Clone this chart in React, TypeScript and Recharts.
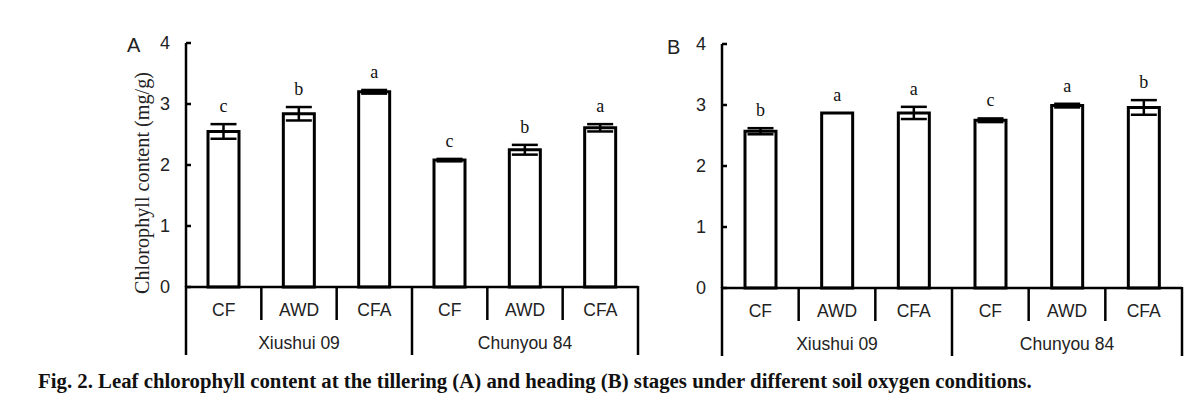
import React from "react";
import { BarChart, Bar, XAxis, YAxis, ErrorBar, LabelList } from "recharts";

const treatments = ["CF", "AWD", "CFA", "CF", "AWD", "CFA"];
const varieties = ["Xiushui 09", "Chunyou 84"];
const tilleringMean = [2.55, 2.84, 3.2, 2.08, 2.25, 2.61];
const tilleringErr = [0.12, 0.11, 0.03, 0.02, 0.08, 0.06];
const tilleringLetter = ["c", "b", "a", "c", "b", "a"];
const headingMean = [2.57, 2.87, 2.87, 2.75, 2.99, 2.96];
const headingErr = [0.05, 0.0, 0.1, 0.03, 0.03, 0.12];
const headingLetter = ["b", "a", "a", "c", "a", "b"];
const yTicks = [0, 1, 2, 3, 4];

const buildData = (mean: number[], err: number[], letters: string[]) =>
  treatments.map((t, i) => ({
    key: `${varieties[Math.floor(i / 3)]}-${t}-${i}`,
    treatment: t,
    mean: mean[i],
    err: err[i],
    letter: letters[i],
  }));

const dataA = buildData(tilleringMean, tilleringErr, tilleringLetter);
const dataB = buildData(headingMean, headingErr, headingLetter);

const SANS = "Arial, 'Liberation Sans', sans-serif";
const SERIF = "'Times New Roman', 'Liberation Serif', serif";
const AX = 2.5;

type PanelProps = {
  data: any[];
  left: number;
  top: number;
  width: number;
  height: number;
  plotLeft: number;
  plotRight: number;
  plotTop: number;
  plotBottom: number;
};

const Panel = ({ data, left, top, width, height, plotLeft, plotRight, plotTop, plotBottom }: PanelProps) => {
  const band = (width - plotLeft - plotRight) / data.length;

  const XTick = (props: any) => {
    const { x, y, payload } = props;
    const i = payload.index;
    const lx = x - band / 2;
    const rx = x + band / 2;
    return (
      <g>
        <line x1={lx} y1={y - 1} x2={lx} y2={y + (i % 3 === 0 ? 68 : 33)} stroke="#000" strokeWidth={AX} />
        {i === data.length - 1 && (
          <line x1={rx} y1={y - 1} x2={rx} y2={y + 68} stroke="#000" strokeWidth={AX} />
        )}
        <text x={x} y={y + 29} textAnchor="middle" fontFamily={SANS} fontSize={17.5} fill="#222">
          {treatments[i]}
        </text>
        {i % 3 === 1 && (
          <text x={x} y={y + 62} textAnchor="middle" fontFamily={SANS} fontSize={17.5} fill="#222">
            {varieties[Math.floor(i / 3)]}
          </text>
        )}
      </g>
    );
  };

  const YTick = (props: any) => {
    const { x, y, payload } = props;
    return (
      <g>
        <line x1={x} y1={y} x2={x + 5} y2={y} stroke="#000" strokeWidth={AX} />
        <text x={x - 16} y={y + 6} textAnchor="end" fontFamily={SANS} fontSize={18} fill="#222">
          {payload.value}
        </text>
      </g>
    );
  };

  const LetterLabel = (props: any) => {
    const { x, y, width: w, height: h, index } = props;
    const d = data[index];
    const ppu = h / d.mean;
    const errTop = y - d.err * ppu;
    return (
      <text x={x + w / 2} y={errTop - 12} textAnchor="middle" fontFamily={SERIF} fontSize={18} fill="#111">
        {d.letter}
      </text>
    );
  };

  return (
    <div style={{ position: "absolute", left, top, width, height }}>
      <BarChart
        width={width}
        height={height}
        data={data}
        margin={{ top: plotTop, right: plotRight, bottom: 0, left: 0 }}
        barSize={31}
      >
        <XAxis
          dataKey="key"
          type="category"
          height={plotBottom}
          axisLine={{ stroke: "#000", strokeWidth: AX }}
          tickLine={false}
          tickSize={0}
          tickMargin={0}
          interval={0}
          tick={<XTick />}
        />
        <YAxis
          domain={[0, 4]}
          ticks={yTicks}
          type="number"
          width={plotLeft}
          axisLine={{ stroke: "#000", strokeWidth: AX }}
          tickLine={false}
          tickSize={0}
          tickMargin={0}
          tick={<YTick />}
          interval={0}
        />
        <Bar dataKey="mean" fill="#fff" stroke="#000" strokeWidth={3} isAnimationActive={false}>
          <ErrorBar dataKey="err" width={13} strokeWidth={2.5} stroke="#000" isAnimationActive={false} />
          <LabelList dataKey="letter" content={<LetterLabel />} />
        </Bar>
      </BarChart>
    </div>
  );
};

export default function App() {
  return (
    <div style={{ position: "absolute", left: 0, top: 0, width: 1200, height: 395, background: "#fff" }}>
      <Panel
        data={dataA}
        left={100}
        top={30}
        width={560}
        height={330}
        plotLeft={86}
        plotRight={22}
        plotTop={13}
        plotBottom={73}
      />
      <Panel
        data={dataB}
        left={660}
        top={30}
        width={540}
        height={330}
        plotLeft={62}
        plotRight={18}
        plotTop={14}
        plotBottom={72}
      />
      <svg
        width={1200}
        height={395}
        style={{ position: "absolute", left: 0, top: 0, pointerEvents: "none" }}
      >
        <text x={127} y={52} fontFamily={SANS} fontSize={20} fill="#222">
          A
        </text>
        <text x={667} y={54} fontFamily={SANS} fontSize={20} fill="#222">
          B
        </text>
        <text
          transform="translate(149,183) rotate(-90)"
          textAnchor="middle"
          fontFamily={SERIF}
          fontSize={20.2}
          fill="#222"
        >
          Chlorophyll content (mg/g)
        </text>
      </svg>
      <div
        style={{
          position: "absolute",
          left: 38,
          top: 368,
          fontFamily: SERIF,
          fontWeight: "bold",
          fontSize: 20.8,
          color: "#111",
          whiteSpace: "nowrap",
          lineHeight: "26px",
        }}
      >
        Fig. 2. Leaf chlorophyll content at the tillering (A) and heading (B) stages under different soil oxygen conditions.
      </div>
    </div>
  );
}
